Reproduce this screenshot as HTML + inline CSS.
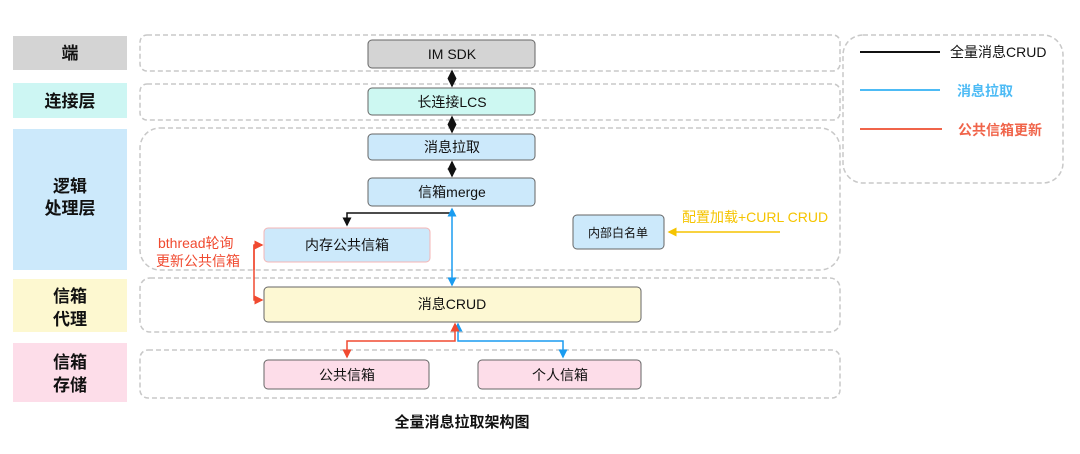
<!DOCTYPE html>
<html><head><meta charset="utf-8"><style>
html,body{margin:0;padding:0;background:#fff;}
svg{display:block;font-family:"Liberation Sans","Noto Sans CJK SC",sans-serif;}
</style></head><body>
<svg width="1080" height="454" viewBox="0 0 1080 454" xmlns="http://www.w3.org/2000/svg">
<defs>
<marker id="ak" markerWidth="6" markerHeight="6" refX="5" refY="3" orient="auto"><path d="M0,0L6,3L0,6z" fill="#111"/></marker>
<marker id="ab" markerWidth="6" markerHeight="6" refX="5" refY="3" orient="auto"><path d="M0,0L6,3L0,6z" fill="#1a9cf0"/></marker>
<marker id="ar" markerWidth="6" markerHeight="6" refX="5" refY="3" orient="auto"><path d="M0,0L6,3L0,6z" fill="#f04a30"/></marker>
<marker id="ay" markerWidth="6" markerHeight="6" refX="5" refY="3" orient="auto"><path d="M0,0L6,3L0,6z" fill="#f5c400"/></marker>
</defs>
<g font-weight="bold" font-size="17" text-anchor="middle" fill="#111">
<rect x="13" y="36" width="114" height="34" fill="#d4d4d4"/><text x="70" y="59">端</text>
<rect x="13" y="83" width="114" height="35" fill="#cdf6f3"/><text x="70" y="107">连接层</text>
<rect x="13" y="129" width="114" height="141" fill="#cce9fb"/><text x="70" y="192">逻辑</text><text x="70" y="214">处理层</text>
<rect x="13" y="279" width="114" height="53" fill="#fdf8d0"/><text x="70" y="302">信箱</text><text x="70" y="325">代理</text>
<rect x="13" y="343" width="114" height="59" fill="#fddde9"/><text x="70" y="368">信箱</text><text x="70" y="391">存储</text>
</g>
<g fill="none" stroke="#c8c8c8" stroke-width="1.5" stroke-dasharray="5,3">
<rect x="140" y="35" width="700" height="36" rx="7"/>
<rect x="140" y="84" width="700" height="36" rx="7"/>
<rect x="140" y="128" width="700" height="142" rx="20"/>
<rect x="140" y="278" width="700" height="54" rx="10"/>
<rect x="140" y="350" width="700" height="48" rx="8"/>
<rect x="843" y="35" width="220" height="148" rx="20"/>
</g>
<g stroke="#666" stroke-width="1" font-size="14" text-anchor="middle" fill="#111">
<rect x="368" y="40" width="167" height="28" rx="4" fill="#d4d4d4"/>
<rect x="368" y="88" width="167" height="27" rx="4" fill="#cdf8f2"/>
<rect x="368" y="134" width="167" height="26" rx="4" fill="#cce9fb"/>
<rect x="368" y="178" width="167" height="28" rx="4" fill="#cce9fb"/>
<rect x="264" y="228" width="166" height="34" rx="4" fill="#cce9fb" stroke="#f5b5b5"/>
<rect x="573" y="215" width="91" height="34" rx="4" fill="#cce9fb"/>
<rect x="264" y="287" width="377" height="35" rx="4" fill="#fdf8d3"/>
<rect x="264" y="360" width="165" height="29" rx="4" fill="#fddde9"/>
<rect x="478" y="360" width="163" height="29" rx="4" fill="#fddde9"/>
</g>
<g font-size="14" text-anchor="middle" fill="#111">
<text x="452" y="59">IM SDK</text>
<text x="452" y="107">长连接LCS</text>
<text x="452" y="152">消息拉取</text>
<text x="452" y="197">信箱merge</text>
<text x="347" y="250">内存公共信箱</text>
<text x="618" y="237" font-size="12">内部白名单</text>
<text x="452" y="309">消息CRUD</text>
<text x="347" y="380">公共信箱</text>
<text x="560" y="380">个人信箱</text>
</g>
<g stroke="#111" stroke-width="1.5" fill="none">
<line x1="452" y1="74" x2="452" y2="71" marker-end="url(#ak)"/><line x1="452" y1="74" x2="452" y2="86" marker-end="url(#ak)"/>
<line x1="452" y1="122" x2="452" y2="117" marker-end="url(#ak)"/><line x1="452" y1="122" x2="452" y2="132" marker-end="url(#ak)"/>
<line x1="452" y1="168" x2="452" y2="162" marker-end="url(#ak)"/><line x1="452" y1="168" x2="452" y2="176" marker-end="url(#ak)"/>
<polyline points="450,213 347,213 347,225" marker-end="url(#ak)"/>
</g>
<g stroke="#1a9cf0" stroke-width="1.5" fill="none">
<line x1="452" y1="250" x2="452" y2="209" marker-end="url(#ab)"/>
<line x1="452" y1="250" x2="452" y2="285" marker-end="url(#ab)"/>
<line x1="458" y1="335" x2="458" y2="324" marker-end="url(#ab)"/>
<polyline points="458,335 458,341 563,341 563,357" marker-end="url(#ab)"/>
</g>
<g stroke="#f04a30" stroke-width="1.5" fill="none">
<polyline points="262,245 254,245 254,300 262,300" marker-end="url(#ar)"/>
<line x1="254" y1="270" x2="254" y2="245"/>
<path d="M254,245 L262,245" marker-end="url(#ar)"/>
<line x1="455" y1="335" x2="455" y2="324" marker-end="url(#ar)"/>
<polyline points="455,335 455,341 347,341 347,357" marker-end="url(#ar)"/>
</g>
<line x1="780" y1="232" x2="669" y2="232" stroke="#f5c400" stroke-width="1.5" marker-end="url(#ay)"/>
<text x="682" y="222" font-size="14" fill="#f5c400">配置加载+CURL CRUD</text>
<text x="158" y="248" font-size="14" fill="#f04a30">bthread轮询</text>
<text x="156" y="266" font-size="14" fill="#f04a30">更新公共信箱</text>
<line x1="860" y1="52" x2="940" y2="52" stroke="#111" stroke-width="2"/>
<text x="950" y="57" font-size="14" fill="#111">全量消息CRUD</text>
<line x1="860" y1="90" x2="940" y2="90" stroke="#4dbbf5" stroke-width="2"/>
<text x="957" y="96" font-size="14" font-weight="bold" fill="#4dbbf5">消息拉取</text>
<line x1="860" y1="129" x2="942" y2="129" stroke="#f0644a" stroke-width="2"/>
<text x="958" y="135" font-size="14" font-weight="bold" fill="#f0644a">公共信箱更新</text>
<text x="462" y="427" font-size="15" font-weight="bold" text-anchor="middle" fill="#111">全量消息拉取架构图</text>
</svg>
</body></html>
